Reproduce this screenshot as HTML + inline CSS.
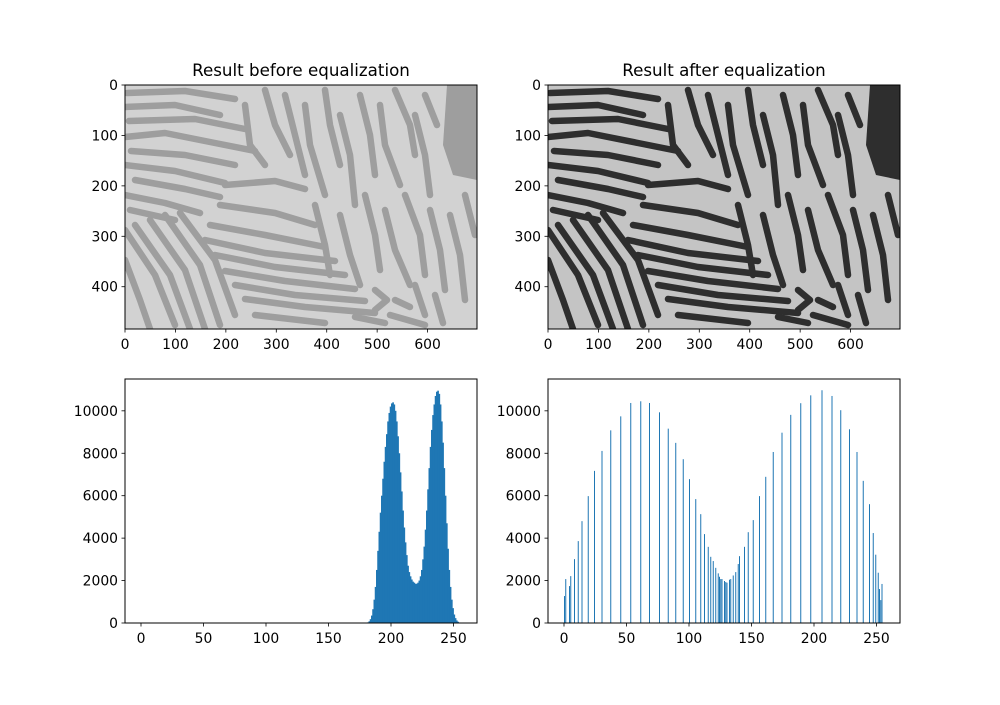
<!DOCTYPE html>
<html><head><meta charset="utf-8">
<style>
html,body{margin:0;padding:0;background:#fff;}
svg text{font-family:"DejaVu Sans","Liberation Sans",sans-serif;}
</style></head>
<body>
<svg id="fig" width="1000" height="700" viewBox="0 0 1000 700" xmlns="http://www.w3.org/2000/svg">
<defs>
  <clipPath id="imgclip"><rect x="0" y="0" width="352" height="244"/></clipPath>
  <symbol id="stripes" viewBox="0 0 352 244" width="352" height="244">
    <g fill="none" stroke-linecap="round" stroke-linejoin="round" stroke-width="6.5">
      <path d="M2 8 L60 6 L110 14"/><path d="M0 22 L50 20 L95 30"/><path d="M4 36 L70 34 L120 44"/>
      <path d="M0 52 L40 48 L90 58 L130 66"/><path d="M6 66 L60 70 L110 80"/><path d="M0 80 L50 86 L100 98"/>
      <path d="M10 95 L60 104 L95 112"/><path d="M0 110 L40 118 L75 128"/><path d="M5 125 L50 135"/>
      <path d="M0 145 L30 190 L50 240"/><path d="M10 140 L45 190 L65 244"/><path d="M25 135 L60 185 L80 244"/>
      <path d="M40 130 L75 180 L95 240"/><path d="M55 128 L90 175 L110 230"/><path d="M0 175 L15 215 L25 244"/>
      <path d="M85 140 L140 150 L200 162"/><path d="M80 155 L140 168 L210 176"/><path d="M90 170 L150 182 L220 190"/>
      <path d="M100 186 L160 196 L230 204"/><path d="M110 200 L170 210 L240 216"/><path d="M120 214 L180 222 L250 228"/>
      <path d="M130 230 L200 238"/><path d="M95 120 L150 128 L190 140"/><path d="M100 100 L150 96 L180 104"/>
      <path d="M120 20 L125 60 L140 80"/><path d="M140 5 L150 40 L165 70"/><path d="M160 10 L170 50 L180 90"/>
      <path d="M180 20 L185 60 L200 110"/><path d="M200 5 L205 40 L215 80"/><path d="M215 30 L225 70 L230 120"/>
      <path d="M235 10 L245 50 L250 90"/><path d="M255 20 L260 60 L275 100"/><path d="M270 5 L285 40 L290 70"/>
      <path d="M290 30 L300 70 L305 110"/><path d="M300 10 L312 40"/>
      <path d="M190 120 L200 160 L205 190"/><path d="M215 130 L225 170 L235 200"/><path d="M240 110 L250 150 L255 185"/>
      <path d="M260 125 L270 165 L285 200"/><path d="M280 110 L295 150 L300 190"/><path d="M305 125 L315 165 L320 205"/>
      <path d="M325 130 L335 170 L340 215"/><path d="M340 110 L350 150"/>
      <path d="M250 205 L262 215 L250 225"/><path d="M270 215 L285 222"/><path d="M290 200 L300 230"/><path d="M230 232 L260 238"/>
      <path d="M310 210 L318 238"/><path d="M265 230 L300 240"/>
    </g>
    <path d="M322 0 L352 0 L352 95 L328 90 L318 60 Z" stroke="none"/>
  </symbol>
</defs>
</svg>
<script>
// ---------- data ----------
const histBeforeBins = [180,181,182,183,184,185,186,187,188,189,190,191,192,193,194,195,196,197,198,199,200,201,202,203,204,205,206,207,208,209,210,211,212,213,214,215,216,217,218,219,220,221,222,223,224,225,226,227,228,229,230,231,232,233,234,235,236,237,238,239,240,241,242,243,244,245,246,247,248,249,250,251,252,253,254,255];
const histBeforeCounts = [10,30,80,180,350,650,1100,1700,2500,3400,4300,5200,6000,6800,7600,8300,8900,9500,9900,10200,10350,10400,10300,10000,9500,8800,8000,7100,6200,5300,4500,3800,3200,2700,2400,2200,2050,1950,1900,1850,1850,1900,2000,2200,2500,3000,3600,4400,5300,6300,7300,8300,9100,9800,10300,10700,10900,10950,10800,10300,9500,8500,7300,6000,4700,3500,2500,1700,1100,700,400,230,120,60,25,10];
const histAfterBins = [0,1,4,5,8,11,14,19,24,30,37,45,53,61,68,76,83,89,95,100,105,109,112,115,117,119,121,123,124,125,126,128,129,130,132,133,135,137,139,140,144,147,151,156,161,167,174,181,189,197,206,214,221,228,234,239,244,247,249,251,252,253,254];
const histAfterCounts = [1270,2070,1740,2210,3010,3860,4800,5980,7170,8110,9080,9740,10370,10450,10370,9930,9160,8490,7720,6780,5840,5130,4190,3590,3120,2920,2600,2340,2180,2070,2070,1980,1930,1900,2040,2070,2240,2400,2780,3150,3590,4280,4850,5980,6890,8060,8970,9810,10360,10730,10970,10700,10030,9130,8060,6700,5600,4240,3220,2370,1600,1080,1840];
const imgXTicks = [0,100,200,300,400,500,600];
const imgYTicks = [0,100,200,300,400];
const histXTicks = [0,50,100,150,200,250];
const histYTicks = [0,2000,4000,6000,8000,10000];

const NS = "http://www.w3.org/2000/svg";
const svg = document.getElementById('fig');
function mk(tag, attrs, parent){
  const e = document.createElementNS(NS, tag);
  for (const k in attrs) e.setAttribute(k, attrs[k]);
  (parent||svg).appendChild(e);
  return e;
}
function tickLabel(x,y,txt,anchor,parent){
  const t = mk('text',{x:x,y:y,'font-size':'13.9','text-anchor':anchor,fill:'#000'},parent);
  t.textContent = txt;
  return t;
}

// ---------- image panels ----------
function imagePanel(x0, title, bg, fg, name){
  const g = mk('g',{});
  
  
  const W=352,H=244, imgW=698;
  const sx = v => x0 + v*W/imgW;
  const sy = v => 85 + v*W/imgW;
  const inner = mk('g',{transform:`translate(${x0},85)`,'clip-path':'url(#imgclip)'},g);
  mk('rect',{x:0,y:0,width:W,height:H,fill:bg},inner);
  const u = mk('use',{href:'#stripes',x:0,y:0,width:W,height:H,fill:fg,stroke:fg},inner);
  
  
  const fr = mk('rect',{x:x0,y:85,width:W,height:H,fill:'none',stroke:'#000','stroke-width':'1'},g);
  
  
  imgXTicks.forEach(v=>{
    const x=sx(v);
    mk('line',{x1:x,y1:329,x2:x,y2:332.5,stroke:'#000','stroke-width':'0.8'},g);
    const t=tickLabel(x,349,String(v),'middle',g);
    
    
  });
  imgYTicks.forEach(v=>{
    const y=sy(v);
    mk('line',{x1:x0-3.5,y1:y,x2:x0,y2:y,stroke:'#000','stroke-width':'0.8'},g);
    const t=tickLabel(x0-7,y+5,String(v),'end',g);
    
    
  });
  const tt = mk('text',{x:x0+W/2,y:76,'font-size':'16.7','text-anchor':'middle',fill:'#000'},g);
  tt.textContent = title;
  
  
}
imagePanel(125,'Result before equalization','#d2d2d2','#9e9e9e','image-before');
imagePanel(548,'Result after equalization','#c4c4c4','#2e2e2e','image-after');

// ---------- histograms ----------
function histPanel(x0, bins, counts, barW, extra, name){
  const g = mk('g',{});
  
  
  const W=352, top=379, bot=623;
  const xmin=-12.8, xmax=268.8, ymax=11500;
  const sx = v => x0 + (v-xmin)/(xmax-xmin)*W;
  const sy = v => bot - v/ymax*(bot-top);
  bins.forEach((b,i)=>{
    const r = mk('rect',{x:sx(b),y:sy(counts[i]),width:Math.max(sx(b+barW)-sx(b),0.5)+extra,height:bot-sy(counts[i]),fill:'#1f77b4'},g);
    
    
  });
  const fr = mk('rect',{x:x0,y:top,width:W,height:bot-top,fill:'none',stroke:'#000','stroke-width':'1'},g);
  
  
  histXTicks.forEach(v=>{
    const x=sx(v);
    mk('line',{x1:x,y1:bot,x2:x,y2:bot+3.5,stroke:'#000','stroke-width':'0.8'},g);
    const t=tickLabel(x,bot+20,String(v),'middle',g);
    
    
  });
  histYTicks.forEach(v=>{
    const y=sy(v);
    mk('line',{x1:x0-3.5,y1:y,x2:x0,y2:y,stroke:'#000','stroke-width':'0.8'},g);
    const t=tickLabel(x0-7,y+5,String(v),'end',g);
    
    
  });
}
histPanel(125, histBeforeBins, histBeforeCounts, 1, 0.4, 'histogram-before');
histPanel(548, histAfterBins, histAfterCounts, 0.8, 0, 'histogram-after');
</script>
</body></html>
